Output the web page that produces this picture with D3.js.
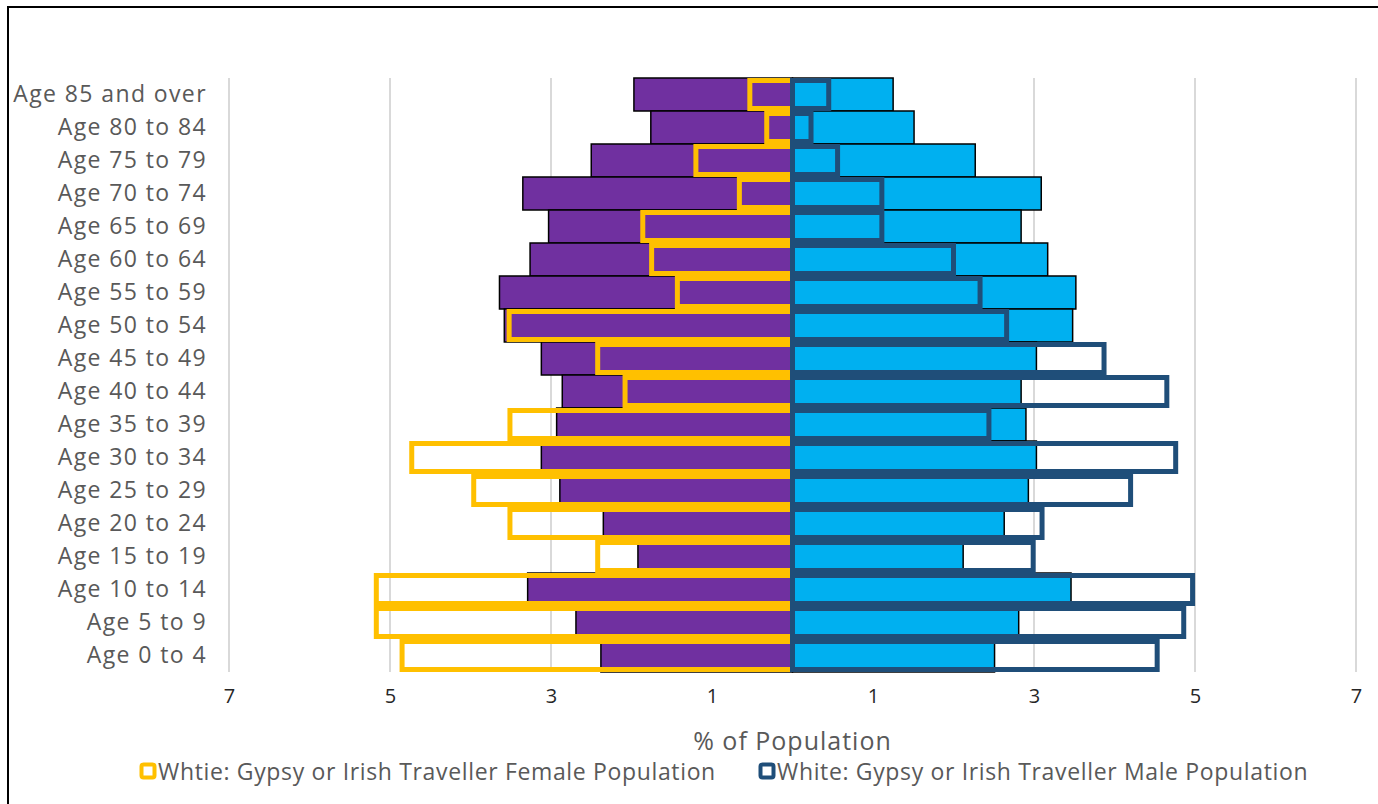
<!DOCTYPE html>
<html>
<head>
<meta charset="utf-8">
<script src="https://cdn.jsdelivr.net/npm/d3@7"></script>
<style>
  body { margin: 0; background: #fff; }
  svg { display: block; }
</style>
</head>
<body>
<div id="chart"></div>
<script>
// Age groups, top to bottom
const ageGroups = ["Age 85 and over", "Age 80 to 84", "Age 75 to 79", "Age 70 to 74", "Age 65 to 69",
    "Age 60 to 64", "Age 55 to 59", "Age 50 to 54", "Age 45 to 49", "Age 40 to 44", "Age 35 to 39",
    "Age 30 to 34", "Age 25 to 29", "Age 20 to 24", "Age 15 to 19", "Age 10 to 14", "Age 5 to 9", "Age 0 to 4"];

// % of population, all people (filled bars)
const allFemale = [1.97, 1.76, 2.50, 3.35, 3.03, 3.26, 3.64, 3.58, 3.12, 2.86, 2.93, 3.12, 2.89, 2.35, 1.92, 3.29, 2.69, 2.38];
const allMale = [1.25, 1.51, 2.27, 3.09, 2.84, 3.17, 3.52, 3.48, 3.03, 2.84, 2.90, 3.03, 2.93, 2.63, 2.12, 3.46, 2.81, 2.51];

// % of population, Gypsy or Irish Traveller (outlined bars)
const travellerFemale = [0.53, 0.32, 1.20, 0.66, 1.86, 1.75, 1.43, 3.52, 2.42, 2.08, 3.51, 4.73, 3.96, 3.51, 2.42, 5.17, 5.17, 4.85];
const travellerMale = [0.45, 0.23, 0.56, 1.11, 1.11, 2.00, 2.33, 2.66, 3.87, 4.65, 2.44, 4.76, 4.20, 3.10, 2.99, 4.97, 4.86, 4.53];

const tickValues = [-7, -5, -3, -1, 1, 3, 5, 7];
const legendLabels = ["Whtie: Gypsy or Irish Traveller Female Population", "White: Gypsy or Irish Traveller Male Population"];

const width = 1378, height = 804;
const font = "'Open Sans', Lato, sans-serif";
const plot = { left: 229, right: 1356, top: 78, bottom: 672 };

const svg = d3.select("#chart").append("svg")
    .attr("width", width)
    .attr("height", height);

// chart frame
svg.append("rect")
    .attr("x", 8).attr("y", 7)
    .attr("width", width).attr("height", height)
    .attr("fill", "none")
    .attr("stroke", "#000")
    .attr("stroke-width", 2);

const x = d3.scaleLinear().domain([-7, 7]).range([plot.left, plot.right]);
const y = d3.scaleBand().domain(ageGroups).range([plot.top, plot.bottom]).padding(0);

// gridlines
svg.append("g")
    .selectAll("line")
    .data(tickValues)
    .join("line")
    .attr("x1", d => x(d)).attr("x2", d => x(d))
    .attr("y1", plot.top).attr("y2", plot.bottom)
    .attr("stroke", "#d9d9d9")
    .attr("stroke-width", 2);

// filled bars for all people
const rows = ageGroups.map((g, i) => ({
    group: g,
    allF: allFemale[i], allM: allMale[i],
    trF: travellerFemale[i], trM: travellerMale[i]
}));

svg.append("g")
    .selectAll("rect")
    .data(rows)
    .join("rect")
    .attr("x", d => x(-d.allF))
    .attr("y", d => y(d.group))
    .attr("width", d => x(0) - x(-d.allF))
    .attr("height", y.bandwidth())
    .attr("fill", "#7030a0")
    .attr("stroke", "#000")
    .attr("stroke-width", 1.5);

svg.append("g")
    .selectAll("rect")
    .data(rows)
    .join("rect")
    .attr("x", x(0))
    .attr("y", d => y(d.group))
    .attr("width", d => x(d.allM) - x(0))
    .attr("height", y.bandwidth())
    .attr("fill", "#00b0f0")
    .attr("stroke", "#000")
    .attr("stroke-width", 1.5);

// outlined bars for Gypsy or Irish Traveller
const sw = 5;
svg.append("g")
    .selectAll("rect")
    .data(rows)
    .join("rect")
    .attr("x", d => x(-d.trF))
    .attr("y", d => y(d.group) + sw / 2)
    .attr("width", d => x(0) - x(-d.trF))
    .attr("height", y.bandwidth() - sw)
    .attr("fill", "none")
    .attr("stroke", "#ffc000")
    .attr("stroke-width", sw);

svg.append("g")
    .selectAll("rect")
    .data(rows)
    .join("rect")
    .attr("x", x(0))
    .attr("y", d => y(d.group) + sw / 2)
    .attr("width", d => x(d.trM) - x(0))
    .attr("height", y.bandwidth() - sw)
    .attr("fill", "none")
    .attr("stroke", "#1f4e79")
    .attr("stroke-width", sw);

// y axis labels
const yAxis = svg.append("g")
    .attr("transform", `translate(${plot.left - 22}, 0)`)
    .call(d3.axisLeft(y).tickSize(0).tickPadding(0));
yAxis.select(".domain").remove();
yAxis.selectAll("text")
    .style("font-family", font)
    .style("font-size", "23px")
    .style("letter-spacing", "1.4px")
    .attr("fill", "#595959");

// x axis labels (absolute values)
const xAxis = svg.append("g")
    .attr("transform", `translate(0, ${plot.bottom + 14})`)
    .call(d3.axisBottom(x).tickValues(tickValues).tickSize(0).tickFormat(d => Math.abs(d)));
xAxis.select(".domain").remove();
xAxis.selectAll("text")
    .style("font-family", font)
    .style("font-size", "20px")
    .attr("fill", "#262626");

// axis title
svg.append("text")
    .attr("x", x(0))
    .attr("y", 750)
    .attr("text-anchor", "middle")
    .style("font-family", font)
    .style("font-size", "25px")
    .style("letter-spacing", "1px")
    .attr("fill", "#595959")
    .text("% of Population");

// legend
const legendItems = [
    { label: legendLabels[0], color: "#ffc000", x: 140 },
    { label: legendLabels[1], color: "#1f4e79", x: 759 }
];
const legend = svg.append("g")
    .selectAll("g")
    .data(legendItems)
    .join("g")
    .attr("transform", d => `translate(${d.x}, 772)`);

legend.append("rect")
    .attr("x", 1.5).attr("y", -7.5)
    .attr("width", 13).attr("height", 13)
    .attr("rx", 2)
    .attr("fill", "#fff")
    .attr("stroke", d => d.color)
    .attr("stroke-width", 4);

legend.append("text")
    .attr("x", 18)
    .attr("y", 8)
    .style("font-family", font)
    .style("font-size", "23px")
    .style("letter-spacing", "0.65px")
    .attr("fill", "#595959")
    .text(d => d.label);
</script>
</body>
</html>
